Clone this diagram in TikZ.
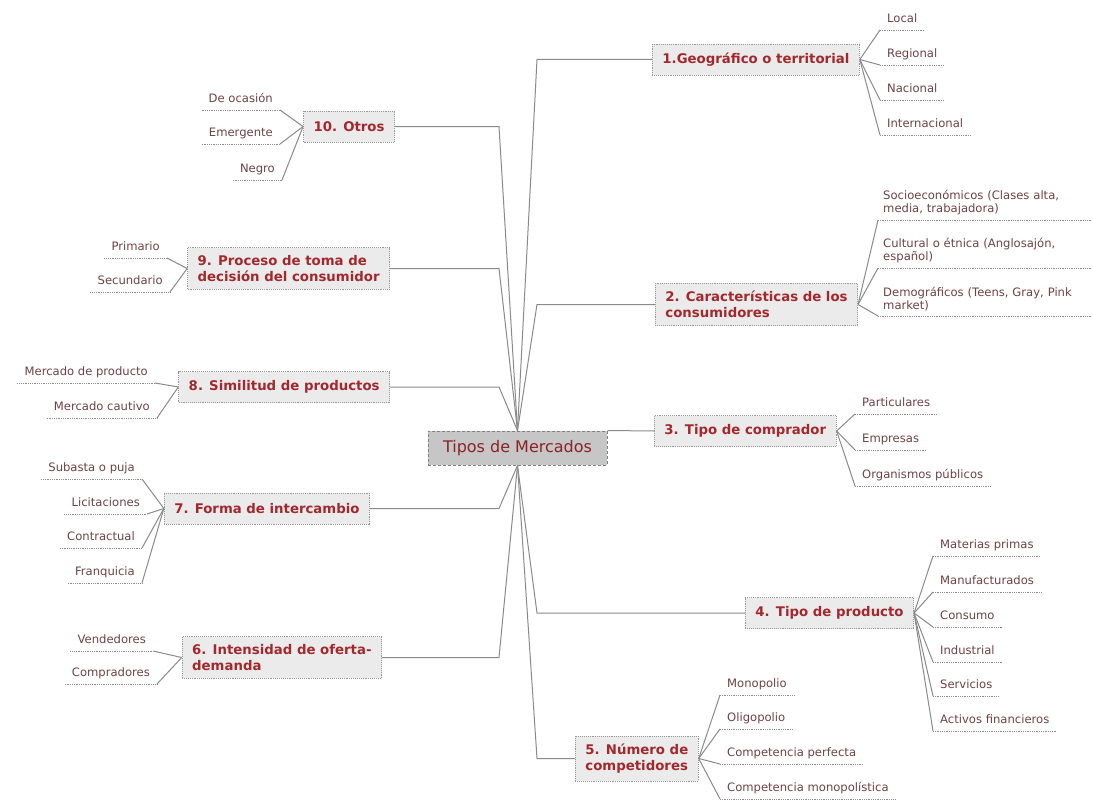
\documentclass[tikz,border=0pt]{standalone}
\usepackage{fontspec}
\setmainfont{DejaVu Sans}

\definecolor{titulo}{HTML}{A3282E}
\definecolor{hojatxt}{HTML}{6E4149}
\definecolor{caja}{HTML}{EBEBEB}
\definecolor{cajacentro}{HTML}{C6C6C6}
\definecolor{linea}{HTML}{8A8A8A}

\begin{document}
\begin{tikzpicture}[x=1pt,y=-1pt,
    centro/.style={draw=black!50,fill=cajacentro,dash pattern=on 3pt off 2pt,line width=1pt,
      text=titulo!85!black,font=\fontsize{16}{18}\selectfont,minimum width=179pt,minimum height=34pt},
    rama/.style={draw=black!40,fill=caja,densely dotted,line width=0.9pt,text=titulo,
      font=\fontsize{13.3}{15.5}\selectfont\bfseries,inner xsep=10pt,inner ysep=8pt,
      minimum height=31pt,align=left},
    hoja/.style={text=hojatxt,font=\fontsize{11.6}{13}\selectfont,inner xsep=7pt,inner ysep=0pt,
      text height=9pt,text depth=7.5pt},
    hojados/.style={text=hojatxt,font=\fontsize{11.6}{13}\selectfont,inner xsep=5pt,inner ysep=5pt,
      text width=203pt,align=left},
    conector/.style={draw=linea,line width=1pt},
    subraya/.style={draw=black!45,densely dotted,line width=0.8pt}]

        \fill[white] (0,0) rectangle (1093,800);
        \useasboundingbox (0,0) rectangle (1093,800);

        % centro
        \node[centro] (tipos) at (517.5,448) {Tipos de Mercados};

        % ramas
        \node[rama,anchor=west] (geo) at (652,59.5) {1.Geográfico o territorial};
        \node[rama,anchor=west] (consum) at (655,304.5) {2. Características de los\\consumidores};
        \node[rama,anchor=west] (comprador) at (654,431) {3. Tipo de comprador};
        \node[rama,anchor=west] (producto) at (745,613) {4. Tipo de producto};
        \node[rama,anchor=west] (compet) at (575,758.5) {5. Número de\\competidores};
        \node[rama,anchor=east] (oferta) at (382,657.5) {6. Intensidad de oferta-\\demanda};
        \node[rama,anchor=east] (intercambio) at (370,508.5) {7. Forma de intercambio};
        \node[rama,anchor=east] (similitud) at (390,387) {8. Similitud de productos};
        \node[rama,anchor=east] (decision) at (390,268.5) {9. Proceso de toma de\\decisión del consumidor};
        \node[rama,anchor=east] (otros) at (395,126.5) {10. Otros};

        % codos
        \coordinate (kgeo) at (537,59.5);
        \coordinate (kconsum) at (537,304.5);
        \coordinate (kproducto) at (537,613);
        \coordinate (kcompet) at (537,758.5);
        \coordinate (koferta) at (499,657.5);
        \coordinate (kintercambio) at (499,508.5);
        \coordinate (ksimilitud) at (499,387);
        \coordinate (kdecision) at (499,268.5);
        \coordinate (kotros) at (499,126.5);

        \draw[conector] (tipos.north) -- (kgeo) -- (geo.west);
        \draw[conector] (tipos.north) -- (kconsum) -- (consum.west);
        \draw[conector] (tipos.north east) -- (comprador.west);
        \draw[conector] (tipos.south) -- (kproducto) -- (producto.west);
        \draw[conector] (tipos.south) -- (kcompet) -- (compet.west);
        \draw[conector] (tipos.south) -- (koferta) -- (oferta.east);
        \draw[conector] (tipos.south) -- (kintercambio) -- (intercambio.east);
        \draw[conector] (tipos.north) -- (ksimilitud) -- (similitud.east);
        \draw[conector] (tipos.north) -- (kdecision) -- (decision.east);
        \draw[conector] (tipos.north) -- (kotros) -- (otros.east);

        % hojas derecha
        \node[hoja,anchor=south west] (geo1) at (880,30) {Local};
        \node[hoja,anchor=south west] (geo2) at (880,65) {Regional};
        \node[hoja,anchor=south west] (geo3) at (880,100) {Nacional};
        \node[hoja,anchor=south west] (geo4) at (880,135) {Internacional};

        \node[hojados,anchor=south west] (cons1) at (878,220) {Socioeconómicos (Clases alta,\\media, trabajadora)};
        \node[hojados,anchor=south west] (cons2) at (878,268) {Cultural o étnica (Anglosajón,\\español)};
        \node[hojados,anchor=south west] (cons3) at (878,316) {Demográficos (Teens, Gray, Pink\\market)};

        \node[hoja,anchor=south west] (comp1) at (855,414) {Particulares};
        \node[hoja,anchor=south west] (comp2) at (855,450) {Empresas};
        \node[hoja,anchor=south west] (comp3) at (855,486) {Organismos públicos};

        \node[hoja,anchor=south west] (prod1) at (933,556) {Materias primas};
        \node[hoja,anchor=south west] (prod2) at (933,592) {Manufacturados};
        \node[hoja,anchor=south west] (prod3) at (933,627) {Consumo};
        \node[hoja,anchor=south west] (prod4) at (933,662) {Industrial};
        \node[hoja,anchor=south west] (prod5) at (933,696) {Servicios};
        \node[hoja,anchor=south west] (prod6) at (933,731) {Activos financieros};

        \node[hoja,anchor=south west] (compt1) at (720,695) {Monopolio};
        \node[hoja,anchor=south west] (compt2) at (720,729) {Oligopolio};
        \node[hoja,anchor=south west] (compt3) at (720,764) {Competencia perfecta};
        \node[hoja,anchor=south west] (compt4) at (720,799) {Competencia monopolística};

        % hojas izquierda
        \node[hoja,anchor=south east] (ofer1) at (153,651) {Vendedores};
        \node[hoja,anchor=south east] (ofer2) at (157,684) {Compradores};

        \node[hoja,anchor=south east] (inter1) at (142,479) {Subasta o puja};
        \node[hoja,anchor=south east] (inter2) at (147,514) {Licitaciones};
        \node[hoja,anchor=south east] (inter3) at (142,548) {Contractual};
        \node[hoja,anchor=south east] (inter4) at (142,583) {Franquicia};

        \node[hoja,anchor=south east] (simi1) at (155,383) {Mercado de producto};
        \node[hoja,anchor=south east] (simi2) at (157,418) {Mercado cautivo};

        \node[hoja,anchor=south east] (deci1) at (167,258) {Primario};
        \node[hoja,anchor=south east] (deci2) at (170,292) {Secundario};

        \node[hoja,anchor=south east] (otro1) at (280,110) {De ocasión};
        \node[hoja,anchor=south east] (otro2) at (280,144) {Emergente};
        \node[hoja,anchor=south east] (otro3) at (282,180) {Negro};

        % subrayados
        \foreach \h in {geo1,geo2,geo3,geo4,cons1,cons2,cons3,comp1,comp2,comp3,
            prod1,prod2,prod3,prod4,prod5,prod6,compt1,compt2,compt3,compt4,
            ofer1,ofer2,inter1,inter2,inter3,inter4,simi1,simi2,deci1,deci2,otro1,otro2,otro3}
          \draw[subraya] (\h.south west) -- (\h.south east);

        % conectores a hojas
        \foreach \h in {geo1,geo2,geo3,geo4} \draw[conector] (geo.east) -- (\h.south west);
        \foreach \h in {cons1,cons2,cons3} \draw[conector] (consum.east) -- (\h.south west);
        \foreach \h in {comp1,comp2,comp3} \draw[conector] (comprador.east) -- (\h.south west);
        \foreach \h in {prod1,prod2,prod3,prod4,prod5,prod6} \draw[conector] (producto.east) -- (\h.south west);
        \foreach \h in {compt1,compt2,compt3,compt4} \draw[conector] (compet.east) -- (\h.south west);
        \foreach \h in {ofer1,ofer2} \draw[conector] (oferta.west) -- (\h.south east);
        \foreach \h in {inter1,inter2,inter3,inter4} \draw[conector] (intercambio.west) -- (\h.south east);
        \foreach \h in {simi1,simi2} \draw[conector] (similitud.west) -- (\h.south east);
        \foreach \h in {deci1,deci2} \draw[conector] (decision.west) -- (\h.south east);
        \foreach \h in {otro1,otro2,otro3} \draw[conector] (otros.west) -- (\h.south east);
      \end{tikzpicture}
\end{document}
